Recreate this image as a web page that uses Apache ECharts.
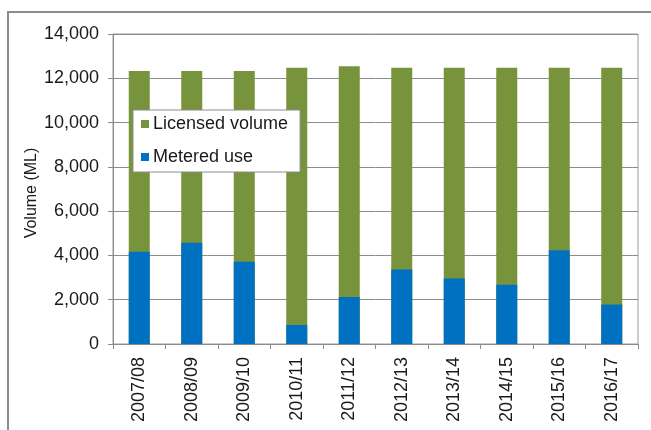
<!DOCTYPE html>
<html>
<head>
<meta charset="utf-8">
<script src="https://cdn.jsdelivr.net/npm/echarts@6/dist/echarts.min.js"></script>
<style>html,body{margin:0;padding:0;background:#fff}#c{width:651px;height:430px}</style>
</head>
<body>
<div id="c"></div>
<script>
const categories = ['2007/08','2008/09','2009/10','2010/11','2011/12','2012/13','2013/14','2014/15','2015/16','2016/17'];
const licensedVolume = [12330, 12330, 12330, 12480, 12540, 12480, 12480, 12480, 12480, 12480];
const meteredUse = [4170, 4575, 3720, 860, 2120, 3370, 2960, 2680, 4230, 1780];
const yTicks = [0, 2000, 4000, 6000, 8000, 10000, 12000, 14000];

const font = 'Liberation Sans, Arial, sans-serif';
const chart = echarts.init(document.getElementById('c'), null, {renderer: 'canvas'});
chart.setOption({
  animation: false,
  backgroundColor: '#fff',
  textStyle: {fontFamily: font},
  graphic: [
    {type: 'polyline', shape: {points: [[8, 430], [8, 12], [651, 12]]}, style: {stroke: '#8c8c8c', lineWidth: 2, fill: null}, silent: true}
  ],
  grid: {left: 113, top: 34, right: 13, bottom: 86, show: true, borderColor: '#9a9a9a', borderWidth: 1, backgroundColor: 'transparent'},
  legend: {
    orient: 'vertical', left: 133, top: 110,
    backgroundColor: '#fff', borderColor: '#8c8c8c', borderWidth: 1,
    padding: [5, 12, 6, 8], itemGap: 15, itemWidth: 8, itemHeight: 8,
    icon: 'rect',
    textStyle: {fontFamily: font, fontSize: 18, color: '#1a1a1a', padding: [0, 0, 0, -1]},
    data: ['Licensed volume', 'Metered use']
  },
  xAxis: {
    type: 'category', data: categories,
    axisLine: {lineStyle: {color: '#8c8c8c'}},
    axisTick: {show: true, length: 5, lineStyle: {color: '#8c8c8c'}},
    axisLabel: {rotate: 90, fontSize: 18, color: '#1a1a1a', fontFamily: font, margin: 13}
  },
  yAxis: {
    type: 'value', min: yTicks[0], max: yTicks[yTicks.length - 1], interval: 2000,
    name: 'Volume (ML)', nameLocation: 'middle', nameGap: 73, nameMoveOverlap: false,
    nameTextStyle: {fontSize: 16, color: '#1a1a1a', fontFamily: font, padding: [0, 8, 0, 0]},
    axisLine: {show: true, lineStyle: {color: '#8c8c8c'}},
    axisTick: {show: true, length: 5, lineStyle: {color: '#8c8c8c'}},
    splitLine: {lineStyle: {color: '#8c8c8c'}},
    axisLabel: {fontSize: 18, color: '#1a1a1a', fontFamily: font, margin: 14,
      formatter: v => v.toLocaleString('en-US')}
  },
  series: [
    {name: 'Licensed volume', type: 'bar', data: licensedVolume, barWidth: '40%', barGap: '-100%',
      itemStyle: {color: '#77933C'}},
    {name: 'Metered use', type: 'bar', data: meteredUse, barWidth: '40%', barGap: '-100%',
      itemStyle: {color: '#0070C0'}}
  ]
});
</script>
</body>
</html>
